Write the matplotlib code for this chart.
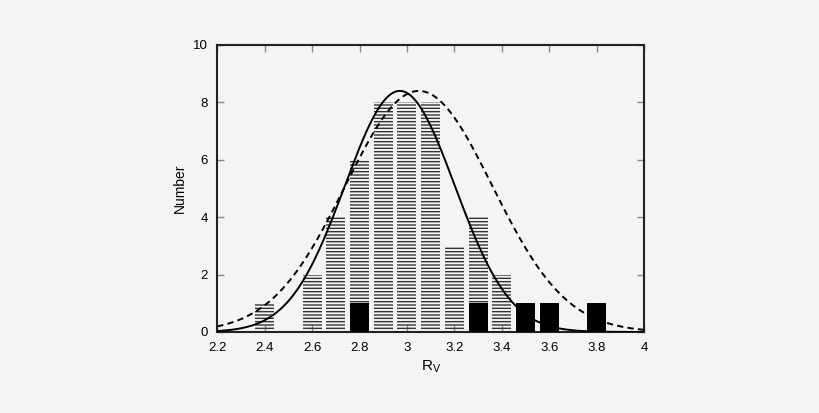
import numpy as np
import matplotlib
matplotlib.use("Agg")
import matplotlib.pyplot as plt

plt.rcParams['font.family'] = ['Liberation Sans', 'DejaVu Sans']
plt.rcParams['hatch.linewidth'] = 1.0

# Histogram of all sample (hatched)
hatch_centers = [2.4, 2.6, 2.7, 2.8, 2.9, 3.0, 3.1, 3.2, 3.3, 3.4]
hatch_counts = [1, 2, 4, 6, 8, 8, 8, 3, 4, 2]

# Sub-sample (solid black)
black_centers = [2.8, 3.3, 3.5, 3.6, 3.8]
black_counts = [1, 1, 1, 1, 1]

# Gaussian fits: (mean, sigma, amplitude)
fit_solid = (2.97, 0.232, 8.4)
fit_dashed = (3.05, 0.31, 8.4)

xticks = [2.2, 2.4, 2.6, 2.8, 3.0, 3.2, 3.4, 3.6, 3.8, 4.0]
xticklabels = ['2.2', '2.4', '2.6', '2.8', '3', '3.2', '3.4', '3.6', '3.8', '4']
yticks = [0, 2, 4, 6, 8, 10]

bg = '#f4f4f4'
fig = plt.figure(figsize=(8.2, 4.13), dpi=100, facecolor=bg)
ax = fig.add_axes([217.3/820, 1-332/413, (644-217.3)/820, (332-45)/413], facecolor=bg)

bw = 0.08
ax.bar(hatch_centers, hatch_counts, width=bw, facecolor='none', edgecolor='#333333',
       linewidth=0, hatch='-----', zorder=2)
ax.bar(black_centers, black_counts, width=bw, color='black', linewidth=0, zorder=3)

xs = np.linspace(2.2, 4.0, 500)
m, s, a = fit_solid
ax.plot(xs, a*np.exp(-(xs-m)**2/(2*s**2)), color='black', lw=1.4, zorder=4)
m, s, a = fit_dashed
ax.plot(xs, a*np.exp(-(xs-m)**2/(2*s**2)), color='black', lw=1.4, ls=(0, (3.2, 2.2)), zorder=4)

ax.set_xlim(2.2, 4.0)
ax.set_ylim(0, 10)
ax.set_xticks(xticks)
ax.set_xticklabels(xticklabels)
ax.set_yticks(yticks)
ax.tick_params(direction='in', top=True, right=True, length=5, width=1,
               color='#888888', labelsize=9.5, pad=7)
for sp in ax.spines.values():
    sp.set_linewidth(1.5)
    sp.set_color('#222222')

ax.set_xlabel(r'R$_\mathregular{V}$', fontsize=11, labelpad=3)
ax.set_ylabel('Number', fontsize=10, labelpad=4)

fig.savefig('out.png', dpi=100, facecolor=bg)
